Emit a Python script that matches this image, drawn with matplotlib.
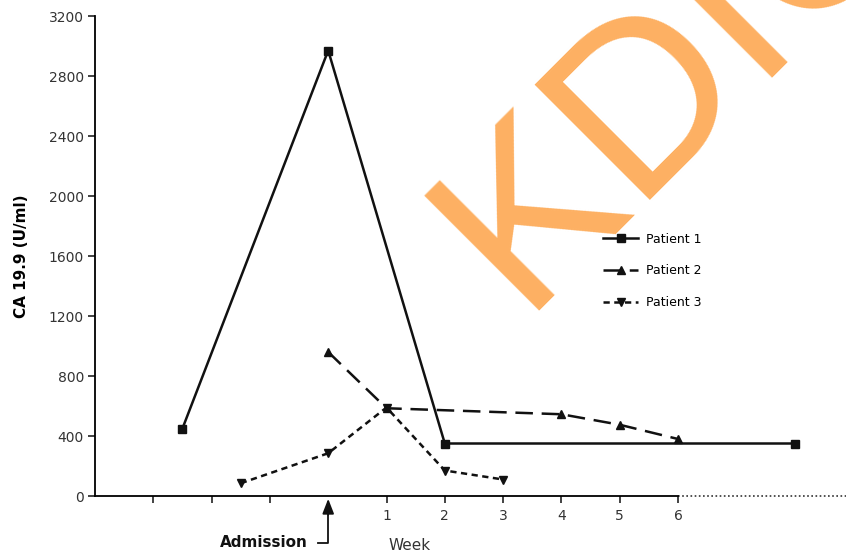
import numpy as np
import matplotlib
matplotlib.use("Agg")
import matplotlib.pyplot as plt

# weeks relative to admission (0) and CA 19.9 values (U/ml)
p1_weeks = [-2.5, 0, 2, 8]
p1_vals = [450, 2970, 350, 350]
p2_weeks = [0, 1, 4, 5, 6]
p2_vals = [960, 585, 545, 475, 380]
p3_weeks = [-1.5, 0, 1, 2, 3]
p3_vals = [85, 285, 590, 170, 110]

tick_weeks = [-3, -2, -1, 1, 2, 3, 4, 5, 6]
tick_labels = ["", "", "", "1", "2", "3", "4", "5", "6"]
y_ticks = np.arange(0, 3201, 400)

plt.rcParams['font.family'] = ['DejaVu Sans']

fig = plt.figure(figsize=(8.46, 5.53), dpi=100)
ax = fig.add_axes([95/846, 57/553, 751/846, 480/553])

ax.plot(p1_weeks, p1_vals, '-', color='#111111', lw=1.8, marker='s', ms=5.5, label='Patient 1')
ax.plot(p2_weeks, p2_vals, color='#111111', lw=1.8, ls=(0, (7, 3.5)), marker='^', ms=5.5, label='Patient 2')
ax.plot(p3_weeks, p3_vals, color='#111111', lw=1.8, ls=(0, (2.5, 1.8)), marker='v', ms=5.5, label='Patient 3')

ax.set_xlim(-4, 751/58.3 - 4)
ax.set_ylim(0, 3200)

for s in ['top', 'right']:
    ax.spines[s].set_visible(False)
ax.spines['left'].set_linewidth(1.3)
ax.spines['bottom'].set_linewidth(1.3)
ax.spines['bottom'].set_bounds(-4, 6)
ax.hlines(0, 6, ax.get_xlim()[1], colors='#333333', linestyles=(0, (1, 1.5)), lw=1.2, clip_on=False)

ax.set_xticks(tick_weeks)
ax.set_xticklabels(tick_labels)
ax.set_yticks(y_ticks)
ax.tick_params(axis='both', direction='out', length=5, width=1.2, labelsize=10,
               labelcolor='#333333', color='#222222')
ax.tick_params(axis='y', pad=3)
ax.tick_params(axis='x', pad=4)

ax.set_ylabel('CA 19.9 (U/ml)', fontsize=11, fontweight='bold', labelpad=14)
ax.text(1.4, -0.103, 'Week', transform=ax.get_xaxis_transform(), ha='center', va='center',
        fontsize=11, color='#333333')

# admission marker below the axis
ax.annotate('', xy=(0, 0), xycoords=('data', 'axes fraction'),
            xytext=(0, -0.045), textcoords=('data', 'axes fraction'),
            arrowprops=dict(arrowstyle='-|>,head_length=0.9,head_width=0.35', color='#111111', lw=1.3),
            annotation_clip=False)
ax.plot([0, 0, -0.18], [-0.04, -0.097, -0.097], color='#111111', lw=1.3,
        transform=ax.get_xaxis_transform(), clip_on=False)
ax.text(-0.35, -0.097, 'Admission', transform=ax.get_xaxis_transform(), ha='right', va='center',
        fontsize=11, fontweight='bold', color='#111111')

leg = ax.legend(loc='upper left', bbox_to_anchor=(0.662, 0.572), frameon=False, fontsize=9,
                handlelength=2.8, labelspacing=1.5, handletextpad=0.6)

# watermark
fig.text(520/846, 1 - 311/553, 'KDIGO', rotation=45, rotation_mode='anchor',
         ha='left', va='baseline', fontsize=170, color='#FDB062', family='Liberation Sans',
         zorder=10)

fig.savefig('out.png', dpi=100)
